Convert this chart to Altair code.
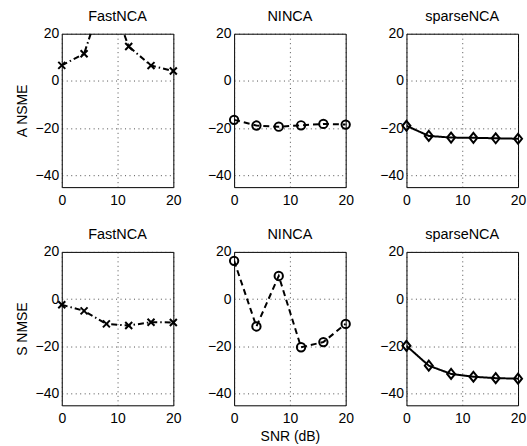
import altair as alt
import pandas as pd

snr = [0, 4, 8, 12, 16, 20]
methods = ["FastNCA", "NINCA", "sparseNCA"]
row_titles = ["A NSME", "S NMSE"]

a_fastnca = [6.6, 11.5, 40.0, 14.6, 6.5, 4.2]
a_ninca = [-16.5, -18.9, -19.4, -18.8, -18.2, -18.5]
a_sparse = [-19.0, -23.3, -24.0, -24.1, -24.3, -24.5]

s_fastnca = [-2.4, -5.0, -10.5, -11.2, -9.8, -9.9]
s_ninca = [16.2, -11.6, 9.8, -20.4, -18.2, -10.5]
s_sparse = [-19.8, -28.2, -31.7, -32.9, -33.5, -33.7]

x_ticks = [0, 10, 20]
y_ticks = [-40, -20, 0, 20]

FONT = "Liberation Sans"

styles = {
    "FastNCA": dict(dash=[6, 3, 1.5, 3], shape="M-1,-1L1,1M-1,1L1,-1", size=49),
    "NINCA": dict(dash=[6, 4], shape="circle", size=70),
    "sparseNCA": dict(dash=[1, 0], shape="M0,-1L0.8,0L0,1L-0.8,0Z", size=100),
}

rows = [
    [a_fastnca, a_ninca, a_sparse],
    [s_fastnca, s_ninca, s_sparse],
]

panels = []
for r, series_list in enumerate(rows):
    for c, (name, vals) in enumerate(zip(methods, series_list)):
        df = pd.DataFrame({"snr": snr, "val": vals})
        st = styles[name]
        xtitle = "SNR (dB)" if (r == 1 and c == 1) else None
        ytitle = row_titles[r] if c == 0 else None
        xaxis = alt.Axis(values=x_ticks, title=xtitle) if xtitle else alt.Axis(values=x_ticks, title=None)
        yaxis = alt.Axis(values=y_ticks, title=ytitle) if ytitle else alt.Axis(values=y_ticks, title=None)
        x = alt.X("snr:Q", scale=alt.Scale(domain=[0, 20], nice=False, zero=False), axis=xaxis)
        y = alt.Y("val:Q", scale=alt.Scale(domain=[-45, 20], nice=False, zero=False), axis=yaxis)
        line = alt.Chart(df).mark_line(
            color="black", strokeWidth=2, strokeDash=st["dash"], clip=True
        ).encode(x=x, y=y)
        pts = alt.Chart(df).transform_filter(
            "datum.val <= 20 && datum.val >= -45"
        ).mark_point(
            shape=st["shape"], size=st["size"], filled=False, color="black",
            strokeWidth=2, opacity=1
        ).encode(x=x, y=y)
        panel = alt.layer(line, pts).properties(
            width=112, height=154,
            title=alt.TitleParams(name, anchor="middle", offset=2, fontSize=14.5,
                                  font=FONT, fontWeight="normal", color="black",
                                  frame="group"),
        )
        panels.append(panel)

chart = alt.concat(*panels, columns=3, spacing={"row": 65, "column": 61}, bounds="flush").properties(
    padding={"left": 14, "top": 8, "right": 0, "bottom": 0},
    background="white",
).configure_view(
    stroke="black", strokeWidth=1
).configure_axis(
    grid=True, gridColor="#222", gridDash=[1, 3.5], gridWidth=1, gridOpacity=0.8,
    ticks=False, tickSize=0, domain=False,
    labelFont=FONT, labelFontSize=14, labelColor="black", labelFlush=False,
    labelOverlap=False,
    titleFont=FONT, titleFontSize=14, titleFontWeight="normal", titleColor="black",
).configure_axisX(
    labelPadding=6, titlePadding=4
).configure_axisY(
    labelPadding=3, titlePadding=6
)

chart.save("out.html", embed_options={"renderer": "svg", "actions": False})
